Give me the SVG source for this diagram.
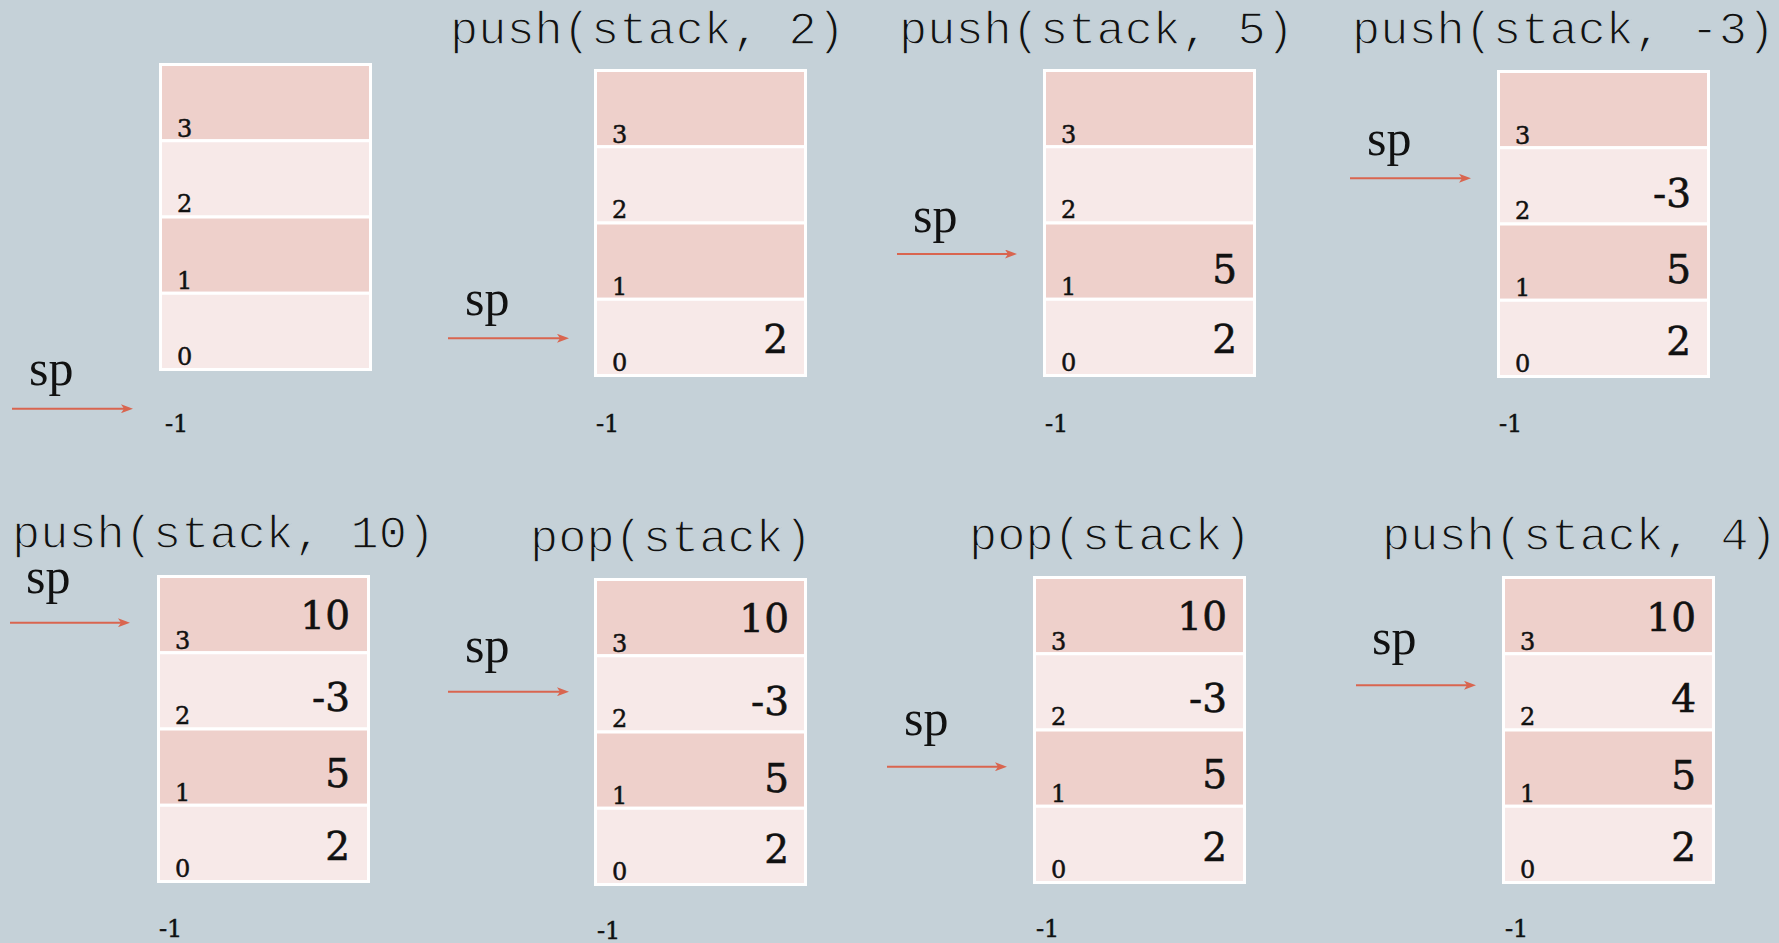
<svg xmlns="http://www.w3.org/2000/svg" width="1779" height="943" viewBox="0 0 1779 943">
<defs>
<style>
.bg{fill:#c5d1d8}
.dk{fill:#eed0cb;stroke:#ffffff;stroke-width:3}
.lt{fill:#f7e9e8;stroke:#ffffff;stroke-width:3}
.idx{font-family:"DejaVu Serif","Liberation Serif",serif;font-size:24px;fill:#111;stroke:#111;stroke-width:0.5px}
.val{font-family:"DejaVu Serif","Liberation Serif",serif;font-size:39px;fill:#111;text-anchor:end;stroke:#111;stroke-width:0.6px}
.sp{font-family:"Liberation Serif",serif;font-size:50px;fill:#111}
.ttl{font-family:"Liberation Mono","Courier New",monospace;font-size:47px;fill:#111;stroke:#c5d1d8;stroke-width:1.3px}
.arr{stroke:#d9654f;stroke-width:2;fill:none;marker-end:url(#ah)}
</style>
<marker id="ah" markerUnits="userSpaceOnUse" markerWidth="12" markerHeight="9" refX="3" refY="4.5" orient="auto" viewBox="0 0 12 9">
<path d="M0,0 L12,4.5 L0,9 L3,4.5 z" fill="#d9654f"/>
</marker>
</defs>
<rect class="bg" x="0" y="0" width="1779" height="943"/>

<g id="stack1">
<rect class="dk" x="160.5" y="64.5" width="210" height="76.25"/>
<rect class="lt" x="160.5" y="140.75" width="210" height="76.25"/>
<rect class="dk" x="160.5" y="217" width="210" height="76.25"/>
<rect class="lt" x="160.5" y="293.25" width="210" height="76.25"/>
<text class="idx" x="177" y="137">3</text>
<text class="idx" x="177" y="212">2</text>
<text class="idx" x="177" y="289">1</text>
<text class="idx" x="177" y="365">0</text>
<text class="idx" x="165" y="432">-1</text>
<text class="sp" x="29" y="385">sp</text>
</g>

<g id="stack2">
<text class="ttl" x="450" y="44">push(stack, 2)</text>
<rect class="dk" x="595.5" y="70.5" width="210" height="76.25"/>
<rect class="lt" x="595.5" y="146.75" width="210" height="76.25"/>
<rect class="dk" x="595.5" y="223" width="210" height="76.25"/>
<rect class="lt" x="595.5" y="299.25" width="210" height="76.25"/>
<text class="idx" x="612" y="143">3</text>
<text class="idx" x="612" y="218">2</text>
<text class="idx" x="612" y="295">1</text>
<text class="idx" x="612" y="371">0</text>
<text class="val" x="788" y="353">2</text>
<text class="idx" x="596" y="432">-1</text>
<text class="sp" x="465" y="315">sp</text>
</g>

<g id="stack3">
<text class="ttl" x="899" y="44">push(stack, 5)</text>
<rect class="dk" x="1044.5" y="70.5" width="210" height="76.25"/>
<rect class="lt" x="1044.5" y="146.75" width="210" height="76.25"/>
<rect class="dk" x="1044.5" y="223" width="210" height="76.25"/>
<rect class="lt" x="1044.5" y="299.25" width="210" height="76.25"/>
<text class="idx" x="1061" y="143">3</text>
<text class="idx" x="1061" y="218">2</text>
<text class="idx" x="1061" y="295">1</text>
<text class="idx" x="1061" y="371">0</text>
<text class="val" x="1237" y="283">5</text>
<text class="val" x="1237" y="353">2</text>
<text class="idx" x="1045" y="432">-1</text>
<text class="sp" x="913" y="232">sp</text>
</g>

<g id="stack4">
<text class="ttl" x="1352" y="44">push(stack, -3)</text>
<rect class="dk" x="1498.5" y="71.5" width="210" height="76.25"/>
<rect class="lt" x="1498.5" y="147.75" width="210" height="76.25"/>
<rect class="dk" x="1498.5" y="224" width="210" height="76.25"/>
<rect class="lt" x="1498.5" y="300.25" width="210" height="76.25"/>
<text class="idx" x="1515" y="144">3</text>
<text class="idx" x="1515" y="219">2</text>
<text class="idx" x="1515" y="296">1</text>
<text class="idx" x="1515" y="372">0</text>
<text class="val" x="1691" y="207">-3</text>
<text class="val" x="1691" y="283">5</text>
<text class="val" x="1691" y="355">2</text>
<text class="idx" x="1499" y="432">-1</text>
<text class="sp" x="1367" y="155">sp</text>
</g>

<g id="stack5">
<text class="ttl" x="12" y="548">push(stack, 10)</text>
<rect class="dk" x="158.5" y="576.5" width="210" height="76.25"/>
<rect class="lt" x="158.5" y="652.75" width="210" height="76.25"/>
<rect class="dk" x="158.5" y="729" width="210" height="76.25"/>
<rect class="lt" x="158.5" y="805.25" width="210" height="76.25"/>
<text class="idx" x="175" y="649">3</text>
<text class="idx" x="175" y="724">2</text>
<text class="idx" x="175" y="801">1</text>
<text class="idx" x="175" y="877">0</text>
<text class="val" x="350" y="629">10</text>
<text class="val" x="350" y="711">-3</text>
<text class="val" x="350" y="787">5</text>
<text class="val" x="350" y="860">2</text>
<text class="idx" x="159" y="937">-1</text>
<text class="sp" x="26" y="593">sp</text>
</g>

<g id="stack6">
<text class="ttl" x="530" y="552">pop(stack)</text>
<rect class="dk" x="595.5" y="579.5" width="210" height="76.25"/>
<rect class="lt" x="595.5" y="655.75" width="210" height="76.25"/>
<rect class="dk" x="595.5" y="732" width="210" height="76.25"/>
<rect class="lt" x="595.5" y="808.25" width="210" height="76.25"/>
<text class="idx" x="612" y="652">3</text>
<text class="idx" x="612" y="727">2</text>
<text class="idx" x="612" y="804">1</text>
<text class="idx" x="612" y="880">0</text>
<text class="val" x="789" y="632">10</text>
<text class="val" x="789" y="715">-3</text>
<text class="val" x="789" y="792">5</text>
<text class="val" x="789" y="863">2</text>
<text class="idx" x="597" y="939">-1</text>
<text class="sp" x="465" y="662">sp</text>
</g>

<g id="stack7">
<text class="ttl" x="969" y="550">pop(stack)</text>
<rect class="dk" x="1034.5" y="577.5" width="210" height="76.25"/>
<rect class="lt" x="1034.5" y="653.75" width="210" height="76.25"/>
<rect class="dk" x="1034.5" y="730" width="210" height="76.25"/>
<rect class="lt" x="1034.5" y="806.25" width="210" height="76.25"/>
<text class="idx" x="1051" y="650">3</text>
<text class="idx" x="1051" y="725">2</text>
<text class="idx" x="1051" y="802">1</text>
<text class="idx" x="1051" y="878">0</text>
<text class="val" x="1227" y="630">10</text>
<text class="val" x="1227" y="712">-3</text>
<text class="val" x="1227" y="788">5</text>
<text class="val" x="1227" y="861">2</text>
<text class="idx" x="1036" y="937">-1</text>
<text class="sp" x="904" y="735">sp</text>
</g>

<g id="stack8">
<text class="ttl" x="1382" y="550">push(stack, 4)</text>
<rect class="dk" x="1503.5" y="577.5" width="210" height="76.25"/>
<rect class="lt" x="1503.5" y="653.75" width="210" height="76.25"/>
<rect class="dk" x="1503.5" y="730" width="210" height="76.25"/>
<rect class="lt" x="1503.5" y="806.25" width="210" height="76.25"/>
<text class="idx" x="1520" y="650">3</text>
<text class="idx" x="1520" y="725">2</text>
<text class="idx" x="1520" y="802">1</text>
<text class="idx" x="1520" y="878">0</text>
<text class="val" x="1696" y="631">10</text>
<text class="val" x="1696" y="712">4</text>
<text class="val" x="1696" y="789">5</text>
<text class="val" x="1696" y="861">2</text>
<text class="idx" x="1505" y="937">-1</text>
<text class="sp" x="1372" y="654">sp</text>
</g>

<g id="connectors">
<line class="arr" x1="12" y1="408.7" x2="124" y2="408.7"/>
<line class="arr" x1="448" y1="338.3" x2="560" y2="338.3"/>
<line class="arr" x1="897" y1="254" x2="1008" y2="254"/>
<line class="arr" x1="1350" y1="178.3" x2="1462" y2="178.3"/>
<line class="arr" x1="10" y1="622.7" x2="121" y2="622.7"/>
<line class="arr" x1="448" y1="691.7" x2="560" y2="691.7"/>
<line class="arr" x1="887" y1="766.7" x2="998" y2="766.7"/>
<line class="arr" x1="1356" y1="685.3" x2="1467" y2="685.3"/>
</g>
</svg>
